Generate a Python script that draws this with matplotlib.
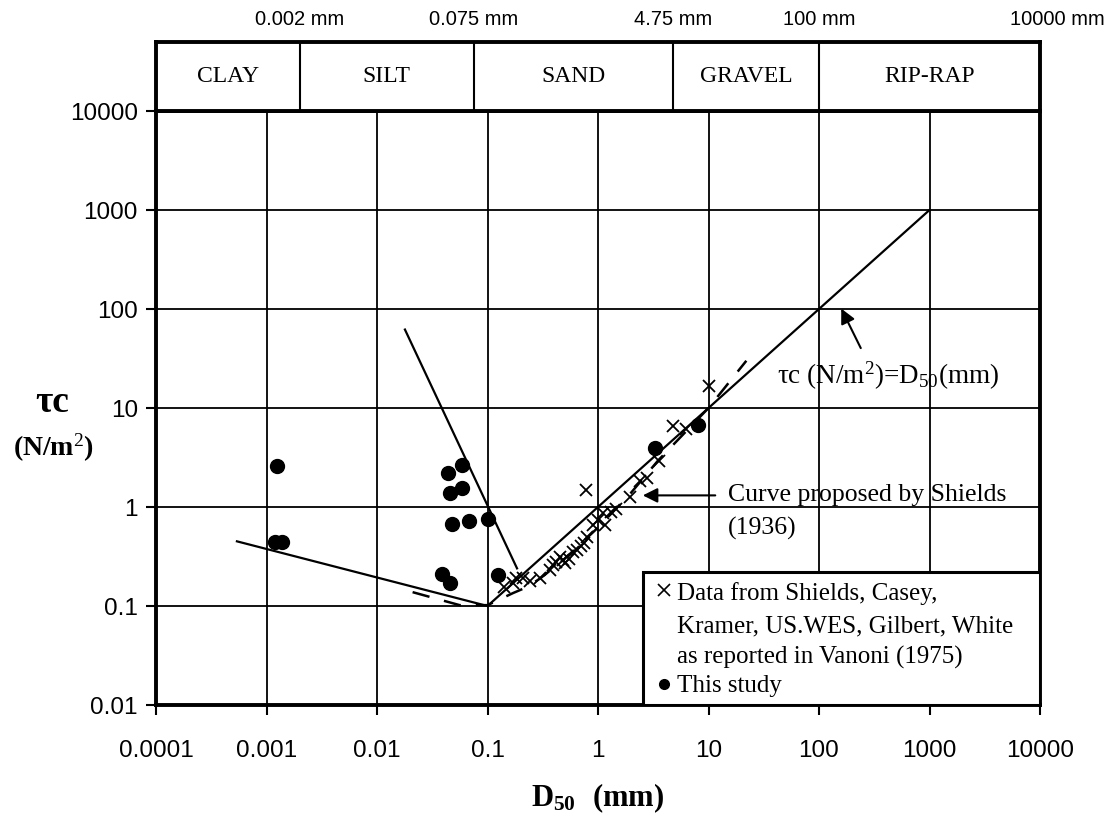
import numpy as np
import matplotlib
matplotlib.use('Agg')
import matplotlib.pyplot as plt
from matplotlib.patches import Rectangle

plt.rcParams['font.family'] = ['Liberation Sans', 'DejaVu Sans']
plt.rcParams['mathtext.fontset'] = 'custom'
plt.rcParams['mathtext.rm'] = 'Liberation Serif'
plt.rcParams['mathtext.it'] = 'Liberation Serif:italic'
plt.rcParams['mathtext.bf'] = 'Liberation Serif:bold'

# soil classes along the top (mm)
class_names = ['CLAY', 'SILT', 'SAND', 'GRAVEL', 'RIP-RAP']
class_edges = [0.0001, 0.002, 0.075, 4.75, 100, 10000]
edge_labels = ['0.002 mm', '0.075 mm', '4.75 mm', '100 mm', '10000 mm']

# Shields, Casey, Kramer, US.WES, Gilbert, White (Vanoni 1975)
vanoni_d = [0.14, 0.17, 0.18, 0.21, 0.24, 0.30, 0.37, 0.39, 0.42, 0.45, 0.48, 0.50,
            0.55, 0.60, 0.65, 0.70, 0.75, 0.80, 0.78, 0.90, 1.0, 1.1, 1.15, 1.3,
            1.47, 1.95, 2.4, 2.77, 3.6, 4.8, 6.3, 10.0]
vanoni_tau = [0.155, 0.17, 0.19, 0.19, 0.18, 0.19, 0.23, 0.26, 0.28, 0.31, 0.29, 0.27,
              0.30, 0.35, 0.37, 0.40, 0.43, 0.50, 1.5, 0.66, 0.74, 0.86, 0.66, 0.88,
              0.96, 1.25, 1.85, 1.97, 2.9, 6.6, 6.2, 16.5]

# this study
study_d = [0.00124, 0.0012, 0.00138, 0.044, 0.059, 0.046, 0.059, 0.048, 0.068,
           0.10, 0.039, 0.046, 0.125, 3.3, 8.0]
study_tau = [2.6, 0.44, 0.44, 2.2, 2.65, 1.37, 1.55, 0.68, 0.73,
             0.75, 0.21, 0.17, 0.205, 3.9, 6.7]

# curve proposed by Shields (1936)
shields_d = [0.021, 0.056, 0.1, 0.17, 0.227, 0.3, 0.5, 1.0, 2.0, 3.5, 10.0, 22.0]
shields_tau = [0.138, 0.102, 0.102, 0.135, 0.155, 0.19, 0.30, 0.62, 1.4, 2.95, 10.0, 30.0]

# tau_c (N/m2) = D50 (mm)
equal_d = [0.1, 1000]
equal_tau = [0.1, 1000]

# fine grained bounds
fine_d = [0.00054, 0.1]
fine_tau = [0.45, 0.1]
steep_d = [0.0179, 0.185]
steep_tau = [62, 0.24]

xticks = [1e-4, 1e-3, 1e-2, 1e-1, 1, 10, 100, 1000, 10000]
xtick_labels = ['0.0001', '0.001', '0.01', '0.1', '1', '10', '100', '1000', '10000']
yticks = [0.01, 0.1, 1, 10, 100, 1000, 10000]
ytick_labels = ['0.01', '0.1', '1', '10', '100', '1000', '10000']

fig = plt.figure(figsize=(11.12, 8.21), dpi=100)
L, B, W, H = 156/1112, 1-705/821, 884/1112, 594/821
ax = fig.add_axes([L, B, W, H])
ax.set_xscale('log')
ax.set_yscale('log')
ax.set_xlim(1e-4, 1e4)
ax.set_ylim(0.01, 10000)
ax.set_xticks(xticks)
ax.set_xticklabels(xtick_labels)
ax.set_yticks(yticks)
ax.set_yticklabels(ytick_labels)
ax.minorticks_off()
ax.tick_params(axis='x', direction='out', length=7, width=1.5, labelsize=17.5, pad=18)
ax.tick_params(axis='y', direction='out', length=7, width=1.5, labelsize=17.5, pad=6)
ax.grid(True, color='black', lw=1.3)
for s in ax.spines.values():
    s.set_linewidth(2.8)

ax.plot(fine_d, fine_tau, color='black', lw=1.6)
ax.plot(steep_d, steep_tau, color='black', lw=1.6)
ax.plot(equal_d, equal_tau, color='black', lw=1.6)
ax.plot(shields_d, shields_tau, color='black', lw=1.8, dashes=(7, 6))
ax.plot(vanoni_d, vanoni_tau, 'x', color='black', ms=9, mew=1.3)
ax.plot(study_d, study_tau, 'o', color='black', ms=10)

serif = 'Liberation Serif'
ax.annotate('', xy=(155, 107), xytext=(245, 38),
            arrowprops=dict(arrowstyle='-|>', color='black', lw=1.5, mutation_scale=22))
ax.text(42, 21, r'τc (N/m$^2$)=D$_{50}$(mm)', family=serif, fontsize=19.5, va='center')
ax.annotate('', xy=(2.4, 1.31), xytext=(12.2, 1.31),
            arrowprops=dict(arrowstyle='-|>', color='black', lw=1.5, mutation_scale=22))
ax.text(15, 1.31, 'Curve proposed by Shields', family=serif, fontsize=18.5, va='center')
ax.text(15, 0.61, '(1936)', family=serif, fontsize=18.5, va='center')

# legend box
lx, ly = (643-156)/884, (705-572)/594
ax.add_patch(Rectangle((lx, 0), 1-lx, ly, transform=ax.transAxes, facecolor='white',
                       edgecolor='black', lw=2.2, zorder=5))
leg_lines = ['Data from Shields, Casey,', 'Kramer, US.WES, Gilbert, White',
             'as reported in Vanoni (1975)', 'This study']
leg_y = [(705-py)/594 for py in [594, 626, 657, 686]]
for t, y in zip(leg_lines, leg_y):
    ax.text((677-156)/884, y, t, transform=ax.transAxes, family=serif, fontsize=18,
            va='center', zorder=6)
ax.plot([(664-156)/884], [(705-590)/594], 'x', color='black', ms=8, mew=1.2,
        transform=ax.transAxes, zorder=6, clip_on=False)
ax.plot([(664-156)/884], [(705-684)/594], 'o', color='black', ms=7,
        transform=ax.transAxes, zorder=6, clip_on=False)

# header with soil classes
hx = fig.add_axes([L, 1-111/821, W, 69/821])
hx.set_xscale('log')
hx.set_xlim(1e-4, 1e4)
hx.set_ylim(0, 1)
hx.set_xticks([])
hx.set_yticks([])
hx.minorticks_off()
for s in hx.spines.values():
    s.set_linewidth(2.8)
for e in class_edges[1:-1]:
    hx.axvline(e, color='black', lw=1.5)
for i, name in enumerate(class_names):
    xc = np.sqrt(class_edges[i] * class_edges[i+1])
    hx.text(xc, 0.5, name, family=serif, fontsize=17, ha='center', va='center')
for i, lab in enumerate(edge_labels):
    xe = class_edges[i+1]
    if i == len(edge_labels) - 1:
        xe = xe * 1.45
    hx.text(xe, 1.33, lab, fontsize=14.5, ha='center', va='center')

fig.text(52/1112, 1-402/821, 'τc', family=serif, fontweight='bold', fontsize=27,
         ha='center', va='center')
fig.text(53/1112, 1-448/821, '(N/m$^2$)', family=serif, fontweight='bold', fontsize=20,
         ha='center', va='center')
fig.text(598/1112, 1-798/821, r'$\mathbf{D_{50}}$  $\mathbf{(mm)}$', fontsize=22,
         ha='center', va='center')

fig.savefig('out.png', dpi=100)
